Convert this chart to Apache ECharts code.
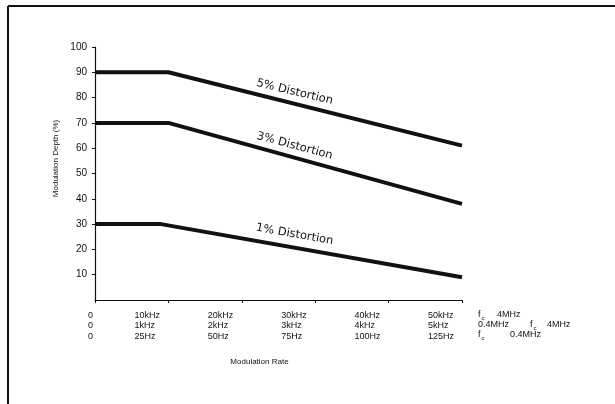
<!DOCTYPE html>
<html>
<head>
<meta charset="utf-8">
<script src="https://cdn.jsdelivr.net/npm/echarts@6/dist/echarts.min.js"></script>
<style>
  html, body { margin: 0; padding: 0; background: #fff; }
  #chart { width: 615px; height: 404px; }
</style>
</head>
<body>
<div id="chart"></div>
<script>
// x values are read on the fc = 4MHz scale (kHz); the other rows just relabel the same ticks
const xTicks = [0, 10, 20, 30, 40, 50];
const rateRow1 = ['0', '10kHz', '20kHz', '30kHz', '40kHz', '50kHz'];
const rateRow2 = ['0', '1kHz', '2kHz', '3kHz', '4kHz', '5kHz'];
const rateRow3 = ['0', '25Hz', '50Hz', '75Hz', '100Hz', '125Hz'];

const dist5 = [[0, 90], [10, 90], [50, 61]];
const dist3 = [[0, 70], [10, 70], [50, 38]];
const dist1 = [[0, 30], [9, 30], [50, 9]];

const curveNames = ['5% Distortion', '3% Distortion', '1% Distortion'];

const ink = '#111';
const font = '"Liberation Sans", Arial, sans-serif';

function curve(name, data, labelAt, angle) {
  return {
    name: name,
    type: 'line',
    data: data,
    symbol: 'none',
    silent: true,
    lineStyle: { color: ink, width: 4 },
    markPoint: {
      symbol: 'circle',
      symbolSize: 0,
      data: [{ coord: labelAt }],
      label: {
        show: true,
        formatter: name,
        rotate: -angle,
        color: ink,
        fontFamily: '"DejaVu Sans", sans-serif',
        fontSize: 11.5
      }
    }
  };
}

function rateLabel(v) {
  const i = xTicks.indexOf(v);
  const s = i === 0 ? 'z' : 'a';
  return [rateRow1[i], rateRow2[i], rateRow3[i]].map(t => '{' + s + '|' + t + '}').join('\n');
}

// fc notes to the right of the axis
function note(text, x, y) {
  return {
    type: 'text', x: x, y: y,
    style: {
      text: text, fill: ink, font: '9px ' + font, verticalAlign: 'middle',
      rich: {
        f: { fontSize: 9, fontFamily: font, fill: ink },
        c: { fontSize: 6, fontFamily: font, fill: ink, padding: [6, 0, 0, 1] }
      }
    }
  };
}

const chart = echarts.init(document.getElementById('chart'));

chart.setOption({
  backgroundColor: '#fff',
  animation: false,
  grid: { left: 95, top: 47, width: 367, height: 253 },
  xAxis: {
    type: 'value', min: 0, max: 50, interval: 10,
    axisLine: { lineStyle: { color: ink, width: 1.2 } },
    axisTick: { show: true, length: 3, lineStyle: { color: ink } },
    splitLine: { show: false },
    axisLabel: {
      align: 'right', margin: 10, color: ink,
      formatter: rateLabel,
      rich: {
        a: { width: 34, align: 'left', fontSize: 9, lineHeight: 10.5, fontFamily: font, color: ink },
        z: { width: 7, align: 'left', fontSize: 9, lineHeight: 10.5, fontFamily: font, color: ink }
      }
    },
    name: 'Modulation Rate', nameLocation: 'middle', nameGap: 58,
    nameTextStyle: { color: ink, fontSize: 8, fontFamily: font, padding: [0, 38, 0, 0] }
  },
  yAxis: {
    type: 'value', min: 0, max: 100, interval: 10,
    axisLine: { show: true, lineStyle: { color: ink, width: 1.2 } },
    axisTick: { show: true, length: 3, lineStyle: { color: ink } },
    splitLine: { show: false },
    axisLabel: { showMinLabel: false, margin: 8, color: ink, fontSize: 10, fontFamily: font },
    name: 'Modulation Depth (%)', nameLocation: 'middle', nameGap: 34,
    nameTextStyle: { color: ink, fontSize: 8, fontFamily: font, padding: [0, 0, 0, 30] }
  },
  series: [
    curve(curveNames[0], dist5, [27.2, 82.2], 13.5),
    curve(curveNames[1], dist3, [27.2, 60.9], 15),
    curve(curveNames[2], dist1, [27.2, 25.9], 10)
  ],
  graphic: [
    { type: 'line', shape: { x1: 8, y1: 6, x2: 615, y2: 6 }, style: { stroke: ink, lineWidth: 2 } },
    { type: 'line', shape: { x1: 8, y1: 6, x2: 8, y2: 404 }, style: { stroke: ink, lineWidth: 2 } },
    note('{f|f}{c|c}', 478, 315),
    note('4MHz', 497, 315),
    note('0.4MHz', 478, 325),
    note('{f|f}{c|c}', 530, 325),
    note('4MHz', 547, 325),
    note('{f|f}{c|c}', 478, 335),
    note('0.4MHz', 510, 335)
  ]
});
</script>
</body>
</html>
